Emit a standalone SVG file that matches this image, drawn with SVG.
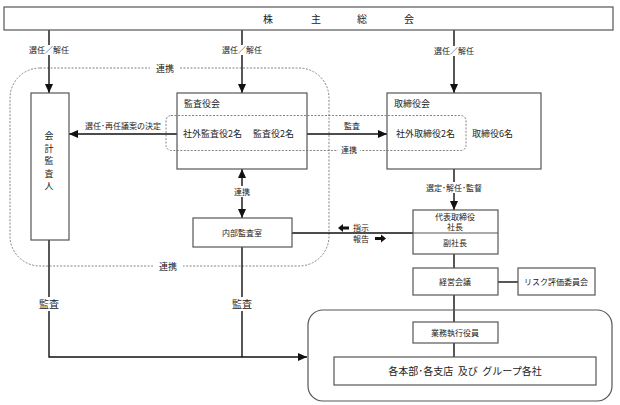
<svg xmlns="http://www.w3.org/2000/svg" width="620" height="405" viewBox="0 0 620 405">
<defs>
<style>
text{font-family:"Noto Sans CJK JP","Noto Sans CJK SC",sans-serif;fill:#222}
.box{fill:#fff;stroke:#555;stroke-width:1.2}
.t9{font-size:9px}
.t8{font-size:8px}
.t10{font-size:10px}
.c{text-anchor:middle}
.ln{fill:none;stroke:#111;stroke-width:1.4}
.dash{fill:none;stroke:#666;stroke-width:0.8;stroke-dasharray:2 1.5}
.bg{fill:#fff;stroke:none}
</style>
<marker id="ah" markerUnits="userSpaceOnUse" markerWidth="10" markerHeight="10" refX="9" refY="4" orient="auto-start-reverse">
<path d="M0,0 L9,4 L0,8 Z" fill="#111"/>
</marker>
</defs>
<rect width="620" height="405" fill="#fff"/>

<!-- dashed grouping frames -->
<g id="frames">
<rect class="dash" x="10" y="68" width="319" height="198" rx="30"/>
<rect class="bg" x="150" y="63" width="30" height="10"/>
<text class="t9 c" x="165" y="71.5">連携</text>
<rect class="bg" x="153" y="261" width="30" height="10"/>
<text class="t9 c" x="168" y="269.5">連携</text>
</g>

<!-- connectors -->
<g id="connectors">
<line class="ln" x1="49" y1="30" x2="49" y2="93" marker-end="url(#ah)"/>
<line class="ln" x1="242" y1="30" x2="242" y2="93" marker-end="url(#ah)"/>
<line class="ln" x1="454" y1="30" x2="454" y2="93" marker-end="url(#ah)"/>
<rect class="bg" x="28" y="45" width="42" height="10"/>
<text class="t8 c" x="49" y="53">選任／解任</text>
<rect class="bg" x="221" y="45" width="42" height="10"/>
<text class="t8 c" x="242" y="53">選任／解任</text>
<rect class="bg" x="433" y="46" width="42" height="10"/>
<text class="t8 c" x="454" y="54">選任／解任</text>

<line class="ln" x1="177" y1="134" x2="69" y2="134" marker-end="url(#ah)"/>
<text class="t8 c" x="123" y="129">選任･再任議案の決定</text>
<line class="ln" x1="307" y1="134" x2="387" y2="134" marker-end="url(#ah)"/>
<text class="t8 c" x="352" y="129">監査</text>

<line class="ln" x1="242" y1="169" x2="242" y2="218" marker-start="url(#ah)" marker-end="url(#ah)"/>
<rect class="bg" x="231" y="186" width="22" height="11"/>
<text class="t8 c" x="242" y="195">連携</text>

<line class="ln" x1="292" y1="233" x2="413" y2="233"/>
<polygon points="338,228 343,224 343,226.5 349,226.5 349,229.5 343,229.5 343,232" fill="#111"/>
<text class="t8" x="353" y="231">指示</text>
<text class="t8" x="353" y="242">報告</text>
<polygon points="386,238.5 381,234.5 381,237 375,237 375,240 381,240 381,242.5" fill="#111"/>

<line class="ln" x1="454" y1="169" x2="454" y2="210" marker-end="url(#ah)"/>
<rect class="bg" x="420" y="182" width="68" height="11"/>
<text class="t8 c" x="454" y="190.5">選定･解任･監督</text>

<line class="ln" x1="454" y1="254" x2="454" y2="268"/>
<line class="ln" x1="498" y1="282" x2="518" y2="282"/>
<line class="ln" x1="454" y1="295" x2="454" y2="322"/>
<line class="ln" x1="454" y1="343" x2="454" y2="357"/>

<polyline class="ln" points="49,240 49,357 307,357" marker-end="url(#ah)"/>
<line class="ln" x1="242" y1="247" x2="242" y2="357"/>
<rect class="bg" x="36" y="297" width="26" height="14"/>
<text class="t10 c" x="49" y="308">監査</text>
<rect class="bg" x="229" y="297" width="26" height="14"/>
<text class="t10 c" x="242" y="308">監査</text>
</g>

<g id="shareholders">
<rect class="box" x="4" y="7" width="609" height="23"/>
<text class="t10 c" x="268" y="23">株</text>
<text class="t10 c" x="316" y="23">主</text>
<text class="t10 c" x="362" y="23">総</text>
<text class="t10 c" x="409" y="23">会</text>
</g>

<g id="auditor">
<rect class="box" x="31" y="93" width="38" height="147"/>
<text class="t9 c" x="49" y="139">会</text>
<text class="t9 c" x="49" y="151.5">計</text>
<text class="t9 c" x="49" y="164">監</text>
<text class="t9 c" x="49" y="176.5">査</text>
<text class="t9 c" x="49" y="189">人</text>
</g>

<g id="audit-board">
<rect class="box" x="177" y="93" width="130" height="76"/>
<text class="t9" x="184" y="107">監査役会</text>
<text class="t9" x="183" y="137">社外監査役2名</text>
<text class="t9" x="253" y="137">監査役2名</text>
</g>

<g id="board">
<rect class="box" x="387" y="93" width="154" height="76"/>
<text class="t9" x="394" y="107">取締役会</text>
<text class="t9" x="396" y="137">社外取締役2名</text>
<text class="t9" x="472" y="137">取締役6名</text>
</g>

<g id="link-frame">
<rect class="dash" x="166" y="115.5" width="300" height="35" rx="5"/>
<rect class="bg" x="338" y="145" width="22" height="10"/>
<text class="t8 c" x="349" y="153">連携</text>
</g>

<g id="internal-audit">
<rect class="box" x="193" y="218" width="99" height="29"/>
<text class="t8 c" x="242" y="236">内部監査室</text>
</g>

<g id="president">
<rect class="box" x="413" y="210" width="85" height="44"/>
<line x1="413" y1="233" x2="498" y2="233" stroke="#555" stroke-width="1"/>
<text class="t8 c" x="455" y="220">代表取締役</text>
<text class="t8 c" x="455" y="230">社長</text>
<text class="t8 c" x="455" y="246">副社長</text>
</g>

<g id="management-meeting">
<rect class="box" x="413" y="268" width="85" height="27"/>
<text class="t8 c" x="455" y="284.5">経営会議</text>
</g>

<g id="risk-committee">
<rect class="box" x="518" y="268" width="77" height="27"/>
<text class="t8 c" x="556" y="284.5">リスク評価委員会</text>
</g>

<g id="execution">
<rect fill="none" stroke="#555" stroke-width="1.2" x="308" y="310" width="304" height="91" rx="15"/>
<rect class="box" x="413" y="322" width="85" height="21"/>
<text class="t8 c" x="455" y="335.5">業務執行役員</text>
<rect class="box" x="334" y="357" width="262" height="28"/>
<text class="t10 c" x="465" y="375" xml:space="preserve">各本部･各支店  及び  グループ各社</text>
</g>
</svg>
